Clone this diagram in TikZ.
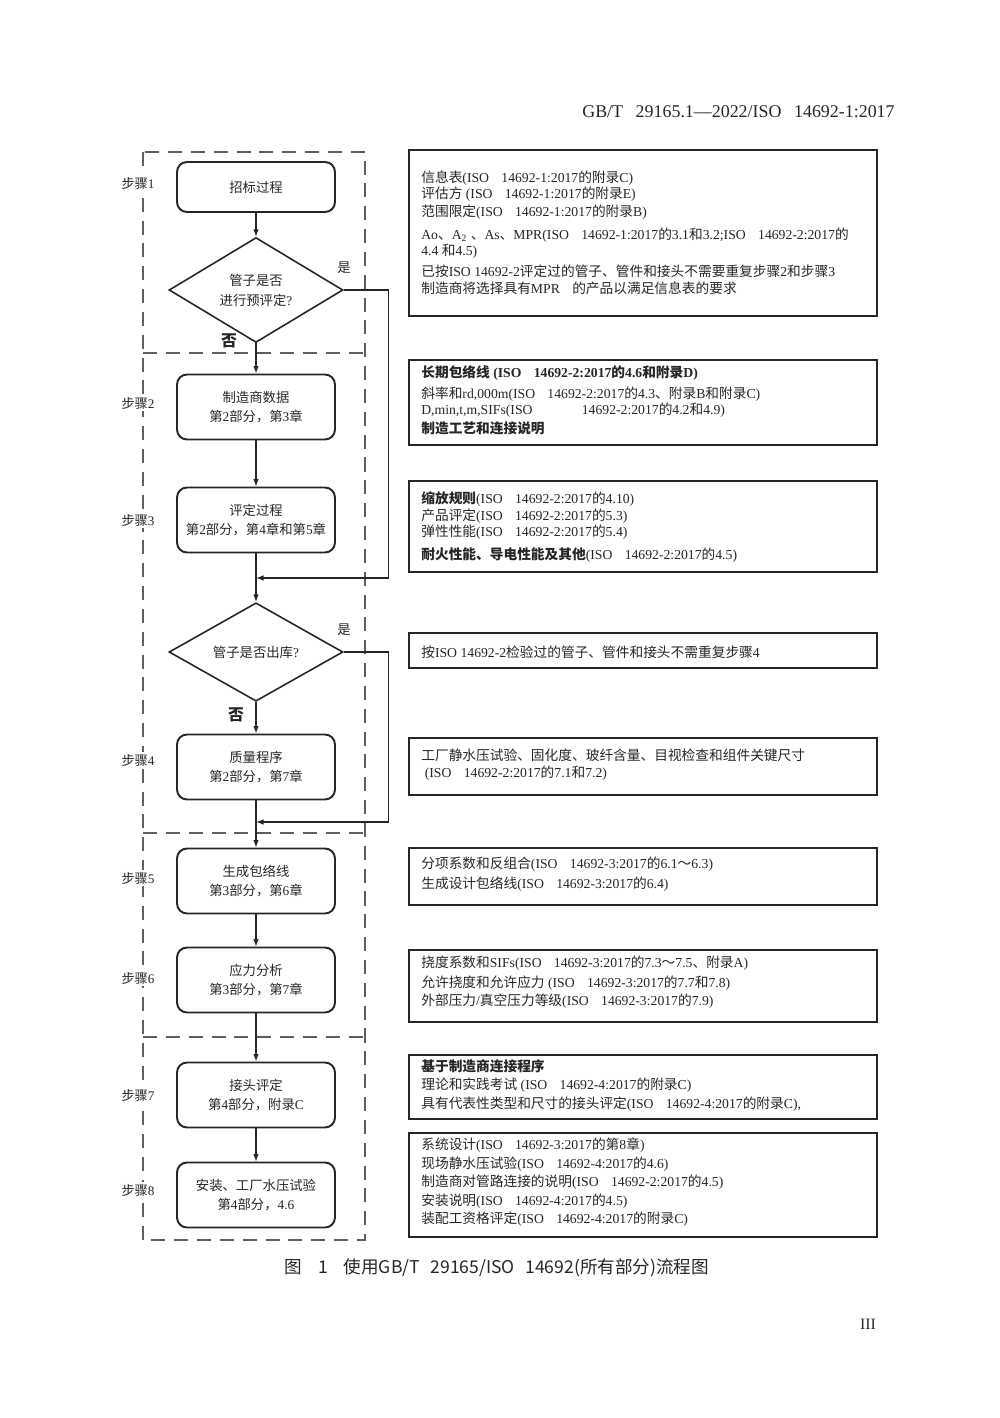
\documentclass[tikz,border=0pt]{standalone}
\usepackage{fontspec}
\setmainfont{Liberation Serif}
\newfontfamily\latinfont{Liberation Serif}
\newfontfamily\cjk{Noto Sans CJK SC}
\usepackage{tikz}
\usetikzlibrary{arrows.meta,positioning,shapes.geometric}
\definecolor{scanink}{RGB}{38,38,38}
\definecolor{dashgray}{RGB}{95,95,95}
\newcommand{\isogap}{\hspace{0.9em}}
\newcommand{\flowfont}{\fontsize{7.6}{11.3}\selectfont}
\newcommand{\infofont}{\fontsize{7.8}{10.2}\selectfont}
\newcommand{\stepfont}{\fontsize{7.5}{9}\selectfont}
% Chinese characters go to the CJK family, everything else stays serif
\XeTeXinterchartokenstate=1
\newXeTeXintercharclass\cjkclass
\newcount\cjkcode
\def\setcjkrange#1#2{\cjkcode=#1 \loop\XeTeXcharclass\cjkcode=\cjkclass\ifnum\cjkcode<#2 \advance\cjkcode by 1 \repeat}
\setcjkrange{"3000}{"303F}
\setcjkrange{"4E00}{"9FFF}
\setcjkrange{"FF00}{"FFEF}
\XeTeXinterchartoks 0 \cjkclass={\cjk}
\XeTeXinterchartoks 4095 \cjkclass={\cjk}
\XeTeXinterchartoks \cjkclass 0={\latinfont}
\XeTeXinterchartoks \cjkclass 4095={\latinfont}

\begin{document}
\begin{tikzpicture}[x=0.02cm,y=-0.02cm,stepbox/.style={draw=scanink,line width=1.1pt,rounded corners=2mm,minimum width=3.16cm,minimum height=1.3cm,align=center,font=\flowfont,text=scanink},query/.style={diamond,draw=scanink,line width=0.9pt,minimum width=3.48cm,minimum height=1.94cm,inner sep=0pt,align=center,font=\flowfont,text=scanink},infobox/.style={draw=scanink,line width=1.3pt,minimum width=9.36cm,anchor=north west,inner sep=0pt,outer sep=0pt},infotext/.style={anchor=north west,inner sep=0pt,align=left,font=\infofont,text=scanink},steplabel/.style={fill=white,inner sep=1pt,font=\stepfont,text=scanink},answer/.style={font=\flowfont,text=scanink,inner sep=0pt},arr/.style={-{Latex[length=1.5mm,width=1.1mm]},line width=0.6pt,draw=scanink},stepframe/.style={draw=dashgray,line width=0.7pt,dash pattern=on 8pt off 5pt}]
\useasboundingbox (0,0) rectangle (1000,1418);
\node[anchor=east,inner sep=0pt,font=\fontsize{10.2}{12}\selectfont,text=scanink] (head) at (895,112) {GB/T\hspace{0.7em}29165.1—2022/ISO\hspace{0.7em}14692-1:2017};
% step frames
\draw[stepframe] (143,152) rectangle (365,1240);
\foreach \y in {353,833,1037}{\draw[stepframe] (143,\y)--(365,\y);}
\foreach \k/\y in {1/183,2/403,3/520,4/760,5/878,6/978,7/1095,8/1190}{\node[steplabel] (l\k) at (138,\y) {步骤\k};}
% flow
\node[stepbox,minimum height=1cm] (b1) at (256,187) {招标过程};
\node[query] (d1) at (256,290) {管子是否\\进行预评定?};
\node[stepbox] (s2) at (256,407) {制造商数据\\第2部分，第3章};
\node[stepbox] (s3) at (256,520) {评定过程\\第2部分，第4章和第5章};
\node[query] (d2) at (256,652) {管子是否出库?};
\node[stepbox] (s4) at (256,767) {质量程序\\第2部分，第7章};
\node[stepbox] (s5) at (256,881) {生成包络线\\第3部分，第6章};
\node[stepbox] (s6) at (256,980) {应力分析\\第3部分，第7章};
\node[stepbox] (s7) at (256,1095) {接头评定\\第4部分，附录C};
\node[stepbox] (s8) at (256,1195) {安装、工厂水压试验\\第4部分，4.6};
\node[answer] (y1) at (344,268) {是};
\node[answer,font=\bfseries\fontsize{9}{10}\selectfont] (n1) at (229,341) {否};
\node[answer] (y2) at (344,630) {是};
\node[answer,font=\bfseries\fontsize{9}{10}\selectfont] (n2) at (236,715) {否};
\coordinate (j1) at (256,578);
\coordinate (j2) at (256,822);
\foreach \u/\v in {b1/d1,d1/s2,s2/s3,s3/d2,d2/s4,s4/s5,s5/s6,s6/s7,s7/s8}{\draw[arr] (\u)--(\v);}
\draw[arr] (d1.east) -- ++(45,0) |- (j1);
\draw[arr] (d2.east) -- ++(45,0) |- (j2);
% notes
\node[infobox,minimum height=3.32cm] (r1) at (409,150) {};
\node[infobox,minimum height=1.7cm] (r2) at (409,360) {};
\node[infobox,minimum height=1.82cm] (r3) at (409,481) {};
\node[infobox,minimum height=0.7cm] (r4) at (409,633) {};
\node[infobox,minimum height=1.14cm] (r5) at (409,738) {};
\node[infobox,minimum height=1.14cm] (r6) at (409,848) {};
\node[infobox,minimum height=1.44cm] (r7) at (409,950) {};
\node[infobox,minimum height=1.28cm] (r8) at (409,1055) {};
\node[infobox,minimum height=2.08cm] (r9) at (409,1133) {};
\node[infotext] (r1t) at (421,170) {信息表(ISO\isogap 14692-1:2017的附录C)\\[-1pt]评估方 (ISO\isogap 14692-1:2017的附录E)\\范围限定(ISO\isogap 14692-1:2017的附录B)\\[3.4pt]Ao、A\textsubscript{2}\ 、As、MPR(ISO\isogap 14692-1:2017的3.1和3.2;ISO\isogap 14692-2:2017的\\[-1.1pt]4.4\ 和4.5)\\[1.7pt]已按ISO 14692-2评定过的管子、管件和接头不需要重复步骤2和步骤3\\[-0.6pt]制造商将选择具有MPR\isogap 的产品以满足信息表的要求};
\node[infotext] (r2t) at (421,365) {\textbf{长期包络线 (ISO\isogap 14692-2:2017的4.6和附录D)}\\[1.7pt]斜率和rd,000m(ISO\isogap 14692-2:2017的4.3、附录B和附录C)\\[-1.1pt]D,min,t,m,SIFs(ISO\hspace{3.6em}14692-2:2017的4.2和4.9)\\[0.6pt]\textbf{制造工艺和连接说明}};
\node[infotext] (r3t) at (421,491) {\textbf{缩放规则}(ISO\isogap 14692-2:2017的4.10)\\[-0.6pt]产品评定(ISO\isogap 14692-2:2017的5.3)\\[-0.6pt]弹性性能(ISO\isogap 14692-2:2017的5.4)\\[2.8pt]\textbf{耐火性能、导电性能及其他}(ISO\isogap 14692-2:2017的4.5)};
\node[infotext] (r4t) at (421,646) {按ISO 14692-2检验过的管子、管件和接头不需重复步骤4};
\node[infotext] (r5t) at (421,749) {工厂静水压试验、固化度、玻纤含量、目视检查和组件关键尺寸\\[-0.6pt]\hspace{2pt}(ISO\isogap 14692-2:2017的7.1和7.2)};
\node[infotext] (r6t) at (421,857) {分项系数和反组合(ISO\isogap 14692-3:2017的6.1～6.3)\\[1.1pt]生成设计包络线(ISO\isogap 14692-3:2017的6.4)};
\node[infotext] (r7t) at (421,956) {挠度系数和SIFs(ISO\isogap 14692-3:2017的7.3～7.5、附录A)\\[1.1pt]允许挠度和允许应力 (ISO\isogap 14692-3:2017的7.7和7.8)\\外部压力/真空压力等级(ISO\isogap 14692-3:2017的7.9)};
\node[infotext] (r8t) at (421,1059) {\textbf{基于制造商连接程序}\\理论和实践考试 (ISO\isogap 14692-4:2017的附录C)\\[0.6pt]具有代表性类型和尺寸的接头评定(ISO\isogap 14692-4:2017的附录C),};
\node[infotext] (r9t) at (421,1137) {系统设计(ISO\isogap 14692-3:2017的第8章)\\[1.1pt]现场静水压试验(ISO\isogap 14692-4:2017的4.6)\\制造商对管路连接的说明(ISO\isogap 14692-2:2017的4.5)\\[0.6pt]安装说明(ISO\isogap 14692-4:2017的4.5)\\装配工资格评定(ISO\isogap 14692-4:2017的附录C)};
\node[font={\XeTeXinterchartokenstate=0 \cjk\fontsize{10}{12}\selectfont},text=scanink] (cap) at (497,1268) {图\hspace{0.9em}1\hspace{0.9em}使用GB/T\hspace{0.6em}29165/ISO\hspace{0.6em}14692(所有部分)流程图};
\node[font=\fontsize{9}{10}\selectfont,text=scanink] (pg) at (868,1324) {III};
\end{tikzpicture}
\end{document}
